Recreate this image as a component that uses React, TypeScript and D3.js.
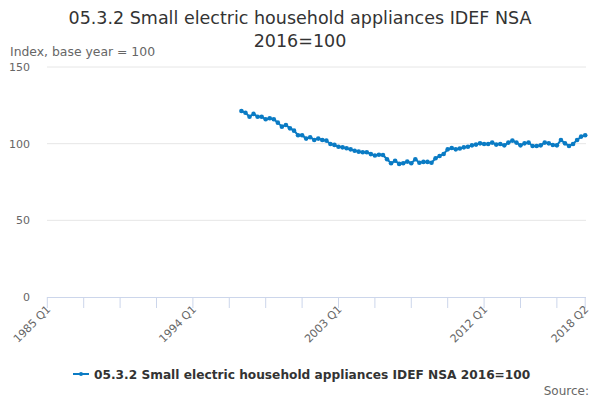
import React from 'react';
import * as d3 from 'd3';

// quarters from 1985 Q1 to 2018 Q2 (category axis)
const startYear = 1985;
const quarterCount = 134;
const quarters: string[] = d3.range(quarterCount).map(
  i => `${startYear + Math.floor(i / 4)} Q${(i % 4) + 1}`
);

// series starts in 1997 Q1
const firstIndex = 48;
const indexValues: number[] = [
  121.3, 120.2, 117.6, 119.4, 117.6, 117.6, 115.9, 116.6,
  115.9, 113.7, 111.1, 112.2, 110.0, 108.5, 105.5, 105.5,
  103.3, 104.2, 102.4, 103.3, 102.4, 102.0, 99.8, 99.2,
  98.0, 97.6, 97.0, 96.3, 95.4, 94.8, 94.4, 94.4,
  93.2, 92.3, 92.8, 92.6, 89.8, 87.2, 88.9, 86.8,
  87.2, 88.3, 87.2, 89.8, 87.6, 88.1, 88.1, 87.6,
  90.5, 92.0, 93.3, 96.3, 97.2, 96.3, 96.8, 97.6,
  98.0, 98.9, 99.4, 100.2, 99.8, 99.8, 100.7, 99.4,
  99.8, 98.9, 100.7, 102.0, 100.7, 98.9, 100.2, 100.7,
  98.5, 98.5, 98.9, 100.7, 100.2, 99.1, 98.9, 102.4,
  100.2, 98.5, 99.8, 102.4, 104.6, 105.5,
];

const yTicks = [0, 50, 100, 150];
const tickEvery = 9;
const labelEvery = 36;

const title1 = '05.3.2 Small electric household appliances IDEF NSA';
const title2 = '2016=100';
const yTitle = 'Index, base year = 100';
const seriesName = '05.3.2 Small electric household appliances IDEF NSA 2016=100';

const color = '#0a7bc4';
const font = '"DejaVu Sans", sans-serif';

export default function App() {
  const width = 600;
  const height = 400;

  const x = d3.scaleLinear().domain([0, quarterCount - 1]).range([47.3, 585.2]);
  const y = d3.scaleLinear().domain([0, 150]).range([297, 67]);

  const points = indexValues.map((v, i) => ({ i: firstIndex + i, v }));
  const line = d3.line<{ i: number; v: number }>()
    .x(d => x(d.i))
    .y(d => y(d.v));

  const tickIdx = d3.range(0, quarterCount, tickEvery).concat([quarterCount - 1]);
  const labelIdx = d3.range(0, quarterCount, labelEvery).concat([quarterCount - 1]);

  return (
    <svg width={width} height={height}
      style={{ position: 'absolute', left: 0, top: 0, background: '#fff', fontFamily: font }}>
      <text x={300} y={24} textAnchor="middle" fontSize={17.5} fill="#333">{title1}</text>
      <text x={300} y={47} textAnchor="middle" fontSize={17.5} fill="#333">{title2}</text>
      <text x={10} y={56} fontSize={12.4} fill="#666">{yTitle}</text>

      {yTicks.map(t => (
        <g key={t}>
          {t > 0 && (
            <line x1={47} x2={586} y1={y(t)} y2={y(t)} stroke="#e6e6e6" strokeWidth={1} />
          )}
          <text x={30} y={y(t)} dy="0.35em" textAnchor="end" fontSize={11} fill="#666">{t}</text>
        </g>
      ))}

      <line x1={47} x2={586} y1={297.5} y2={297.5} stroke="#ccd6eb" strokeWidth={1} />
      {tickIdx.map(i => (
        <line key={i} x1={x(i)} x2={x(i)} y1={297} y2={308} stroke="#ccd6eb" strokeWidth={1} />
      ))}
      {labelIdx.map(i => (
        <text key={i} transform={`translate(${x(i) + 4},${310}) rotate(-45)`}
          textAnchor="end" fontSize={11} fill="#666">{quarters[i]}</text>
      ))}

      <path d={line(points) || ''} fill="none" stroke={color} strokeWidth={2} />
      {points.map(p => (
        <circle key={p.i} cx={x(p.i)} cy={y(p.v)} r={2.3} fill={color} />
      ))}

      <line x1={73} x2={89} y1={374} y2={374} stroke={color} strokeWidth={2} />
      <circle cx={81} cy={374} r={2} fill={color} />
      <text x={94} y={378.5} fontSize={12.2} fontWeight="bold" fill="#333">{seriesName}</text>
      <text x={589} y={395} textAnchor="end" fontSize={12} fill="#666">Source:</text>
    </svg>
  );
}
